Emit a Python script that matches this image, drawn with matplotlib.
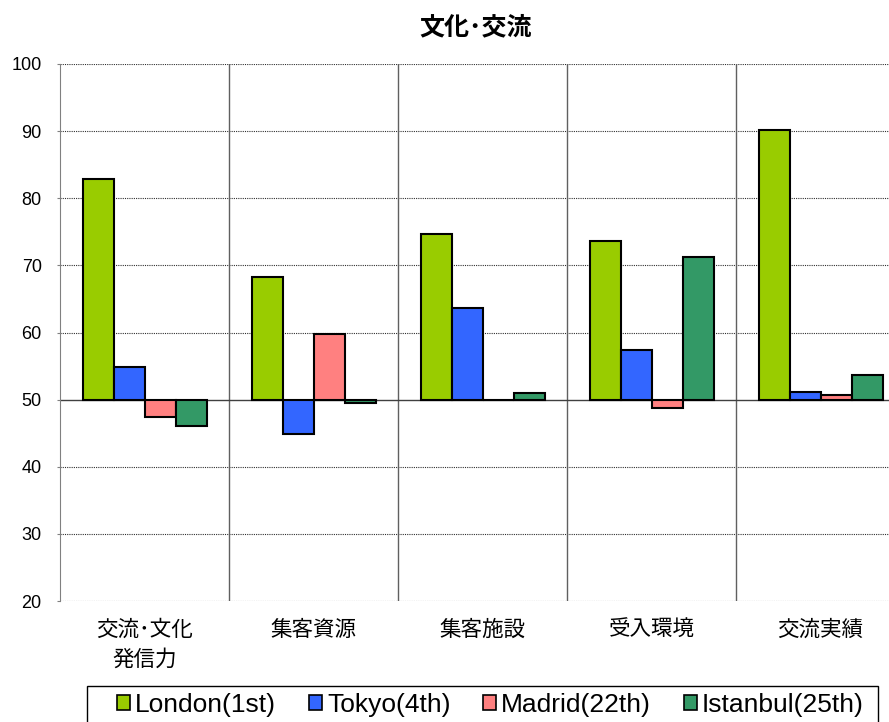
import matplotlib
matplotlib.use("Agg")
import matplotlib.pyplot as plt
import numpy as np
from matplotlib.patches import Patch, Rectangle
from matplotlib.transforms import blended_transform_factory

plt.rcParams['font.family'] = ['Noto Sans CJK JP', 'DejaVu Sans']

# data (bars drawn from baseline 50)
categories = ['交流･文化\n発信力', '集客資源', '集客施設', '受入環境', '交流実績']
series_names = ['London(1st)', 'Tokyo(4th)', 'Madrid(22th)', 'Istanbul(25th)']
london = [82.9, 68.3, 74.6, 73.7, 90.2]
tokyo = [54.8, 44.9, 63.6, 57.4, 51.2]
madrid = [47.4, 59.8, 49.9, 48.7, 50.7]
istanbul = [46.0, 49.5, 51.0, 71.3, 53.7]
colors = ['#99cc00', '#3366ff', '#ff8080', '#339966']
baseline = 50

fig = plt.figure(figsize=(8.89, 7.22), dpi=100)
ax = fig.add_axes([60 / 889, 121 / 722, 845 / 889, 537 / 722])

x = np.arange(len(categories))
w = 31 / 169
for i, vals in enumerate([london, tokyo, madrid, istanbul]):
    vals = np.array(vals)
    ax.bar(x + (i - 1.5) * w, vals - baseline, bottom=baseline, width=w,
           color=colors[i], edgecolor='black', linewidth=1.5, zorder=3)

ax.set_xlim(-0.5, 4.5)
ax.set_ylim(20, 100)
ax.set_yticks(range(20, 101, 10))
ax.tick_params(axis='y', length=2.2, color='#808080', pad=11)
for lab in ax.get_yticklabels():
    lab.set_fontfamily('Liberation Sans')
    lab.set_fontsize(13)
ax.set_xticks(x)
ax.set_xticklabels([])
ax.tick_params(axis='x', length=0)

# category labels, one text per line so every line sits at the same height
trans = blended_transform_factory(ax.transData, fig.transFigure)
for xi, cat in zip(x, categories):
    for j, line in enumerate(cat.split('\n')):
        ax.text(xi, 1 - (630 + 30 * j) / 722, line, transform=trans,
                ha='center', va='center', fontsize=15.5)

# grid
for yv in range(20, 101, 10):
    if yv == baseline:
        ax.axhline(yv, color='#404040', linewidth=1.0, zorder=2)
    else:
        ax.axhline(yv, color='#303030', linewidth=0.8, linestyle=(0, (1, 1)), zorder=1)
for xv in np.arange(0.5, 4.5, 1):
    ax.axvline(xv, color='#606060', linewidth=1.0, zorder=1)

for s in ['top', 'right', 'bottom']:
    ax.spines[s].set_visible(False)
ax.spines['left'].set_color('#808080')

fig.text(476 / 889, 1 - 27 / 722, '文化･交流', ha='center', va='center',
         fontsize=18, fontweight='bold')

# legend box (extends past the bottom edge like the reference)
fig.patches.append(Rectangle((87 / 889, -10 / 722), (878 - 87) / 889, (722 - 686 + 10) / 722,
                             transform=fig.transFigure, facecolor='white',
                             edgecolor='black', linewidth=1.0, zorder=0))
handles = [Patch(facecolor=c, edgecolor='black', linewidth=1.2) for c in colors]
leg = fig.legend(handles, series_names, ncol=4, loc='center left',
                 bbox_to_anchor=(117 / 889, 1 - 705 / 722),
                 prop={'family': 'Liberation Sans', 'size': 19},
                 frameon=False, borderpad=0, borderaxespad=0,
                 handlelength=0.49, handleheight=0.49, handletextpad=0.19,
                 columnspacing=1.25)

fig.savefig('out.png', dpi=100)
